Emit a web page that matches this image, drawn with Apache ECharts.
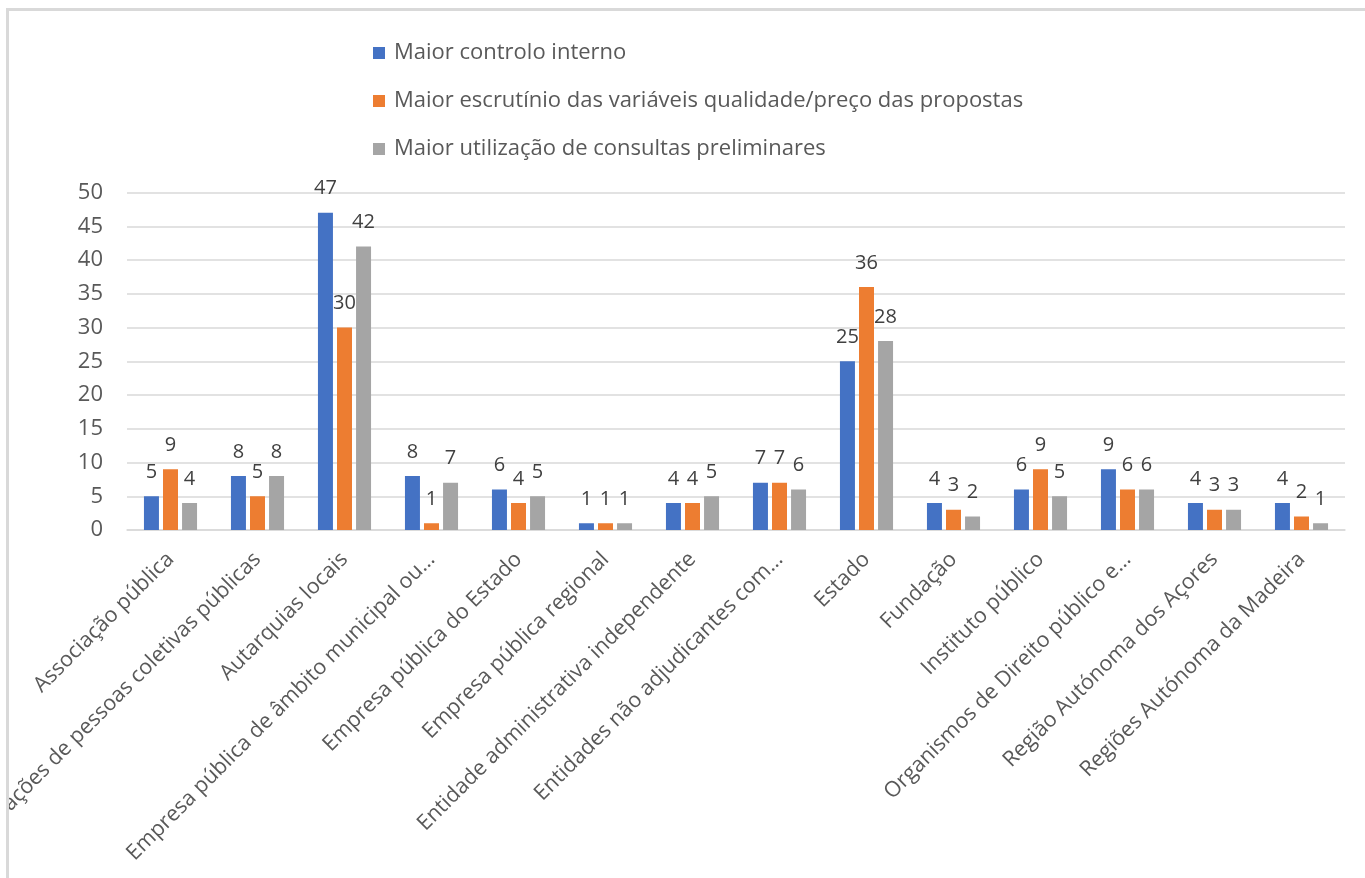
<!DOCTYPE html>
<html>
<head>
<meta charset="utf-8">
<script src="https://cdn.jsdelivr.net/npm/echarts@6/dist/echarts.min.js"></script>
<style>
html,body{margin:0;padding:0;background:#fff;}
#wrap{position:absolute;left:6px;top:8px;width:1356px;height:867px;border-top:3px solid #d9d9d9;border-left:3px solid #d9d9d9;overflow:hidden;}
#chart{width:1356px;height:867px;}
</style>
</head>
<body>
<div id="wrap"><div id="chart"></div></div>
<script>
const categories = [
  "Associação pública",
  "Associações de pessoas coletivas públicas",
  "Autarquias locais",
  "Empresa pública de âmbito municipal ou…",
  "Empresa pública do Estado",
  "Empresa pública regional",
  "Entidade administrativa independente",
  "Entidades não adjudicantes com…",
  "Estado",
  "Fundação",
  "Instituto público",
  "Organismos de Direito público e…",
  "Região Autónoma dos Açores",
  "Regiões Autónoma da Madeira"
];
const seriesNames = [
  "Maior controlo interno",
  "Maior escrutínio das variáveis qualidade/preço das propostas",
  "Maior utilização de consultas preliminares"
];
const controloInterno = [5, 8, 47, 8, 6, 1, 4, 7, 25, 4, 6, 9, 4, 4];
const escrutinio      = [9, 5, 30, 1, 4, 1, 4, 7, 36, 3, 9, 6, 3, 2];
const consultas       = [4, 8, 42, 7, 5, 1, 5, 6, 28, 2, 5, 6, 3, 1];
const yTicks = { min: 0, max: 50, interval: 5 };
const colors = ["#4472C4", "#ED7D31", "#A5A5A5"];

const FONT = "Open Sans";
const chart = echarts.init(document.getElementById('chart'));
const values = [controloInterno, escrutinio, consultas];
chart.setOption({
  animation: false,
  color: colors,
  textStyle: { fontFamily: FONT },
  legend: {
    orient: 'vertical',
    left: 359,
    top: 26,
    itemWidth: 12,
    itemHeight: 12,
    itemGap: 26,
    icon: 'rect',
    textStyle: { fontFamily: FONT, fontSize: 22, color: '#595959', padding: [0, 0, 0, 4] },
    data: seriesNames
  },
  grid: { left: 118, right: 20, top: 181.5, bottom: 348, containLabel: false, outerBoundsMode: 'none' },
  xAxis: {
    type: 'category',
    data: categories,
    axisTick: { show: false },
    axisLine: { lineStyle: { color: '#d9d9d9', width: 1.5 } },
    axisLabel: { interval: 0, rotate: 45, fontSize: 21.5, color: '#595959', margin: 26, fontFamily: FONT }
  },
  yAxis: {
    type: 'value',
    min: yTicks.min, max: yTicks.max, interval: yTicks.interval,
    axisLine: { show: false },
    axisTick: { show: false },
    splitLine: { lineStyle: { color: '#d9d9d9', width: 1.5 } },
    axisLabel: { fontSize: 22, color: '#595959', margin: 24, fontFamily: FONT }
  },
  series: seriesNames.map((n, i) => ({
    name: n,
    type: 'bar',
    data: values[i],
    barWidth: 15,
    barGap: '27%',
    label: { show: true, position: 'top', distance: 14, fontSize: 20, color: '#404040', fontFamily: FONT }
  }))
});
</script>
</body>
</html>
